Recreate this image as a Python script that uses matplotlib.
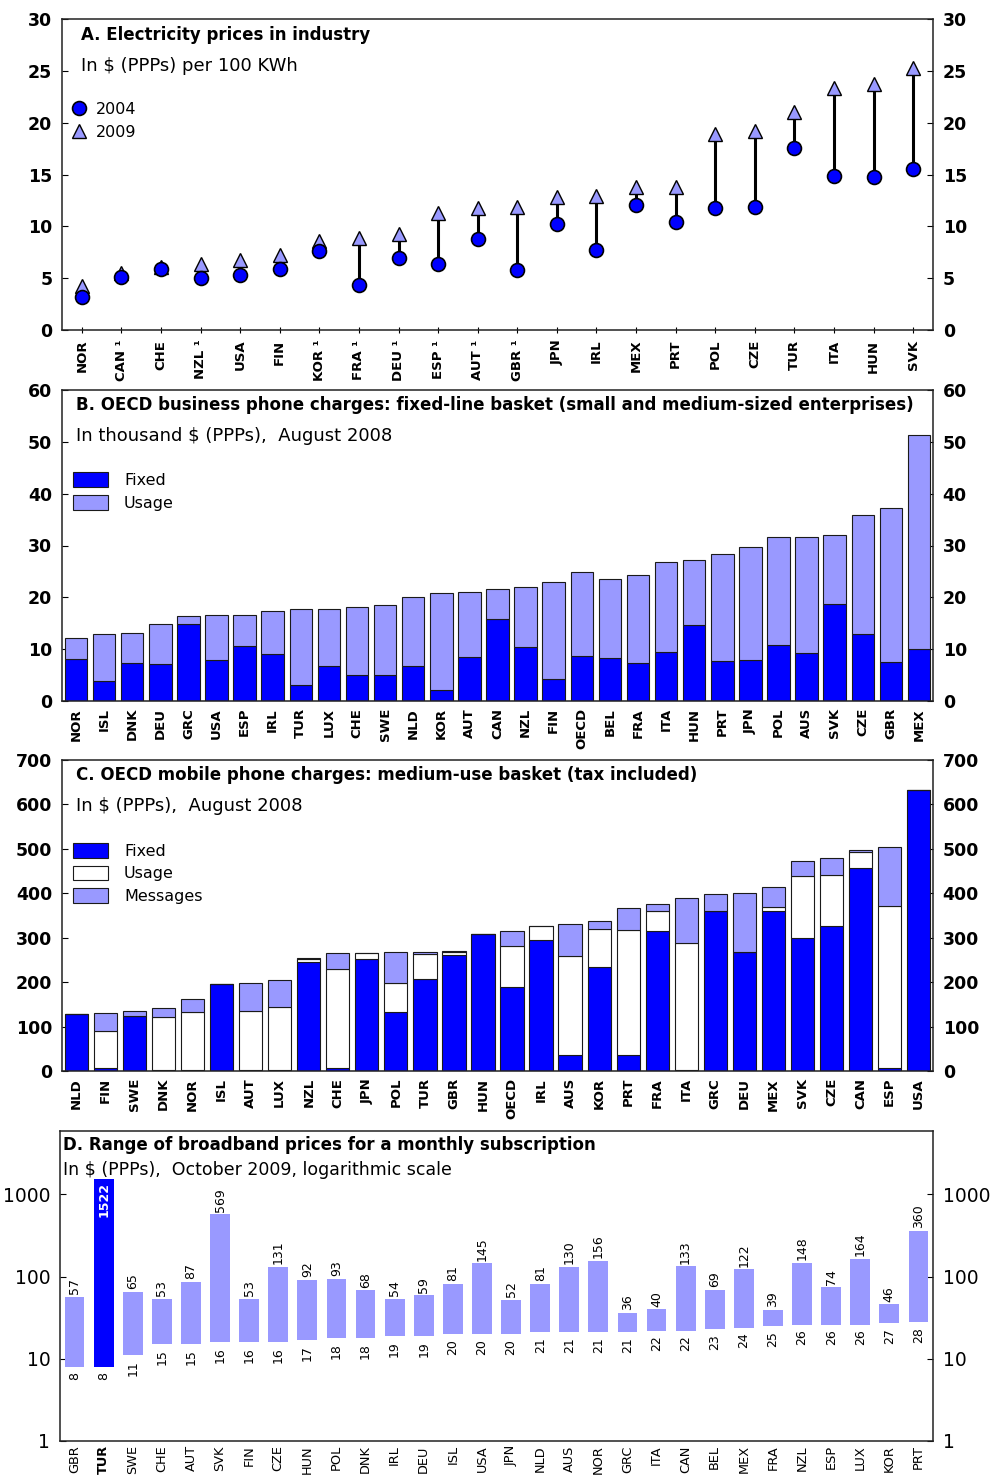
import numpy as np
import matplotlib
matplotlib.use("Agg")
import matplotlib.pyplot as plt
from matplotlib.lines import Line2D
from matplotlib.patches import Patch

plt.rcParams['font.family'] = ['DejaVu Sans']

# ---------------- Panel A: electricity prices ----------------
elec_countries = ["NOR", "CAN \u00b9", "CHE", "NZL \u00b9", "USA", "FIN", "KOR \u00b9", "FRA \u00b9",
                  "DEU \u00b9", "ESP \u00b9", "AUT \u00b9", "GBR \u00b9", "JPN", "IRL", "MEX", "PRT",
                  "POL", "CZE", "TUR", "ITA", "HUN", "SVK"]
elec_2004 = [3.15, 5.15, 5.9, 5.05, 5.3, 5.85, 7.6, 4.3, 6.9, 6.35, 8.8, 5.8,
             10.2, 7.7, 12.1, 10.4, 11.8, 11.9, 17.6, 14.85, 14.8, 15.5]
elec_2009 = [4.2, 5.5, 6.1, 6.4, 6.8, 7.2, 8.6, 8.9, 9.25, 11.25, 11.8, 11.9,
             12.8, 12.95, 13.8, 13.8, 18.9, 19.2, 21.0, 23.3, 23.7, 25.3]

# ---------------- Panel B: fixed-line business basket ----------------
fl_countries = ["NOR", "ISL", "DNK", "DEU", "GRC", "USA", "ESP", "IRL", "TUR", "LUX", "CHE",
                "SWE", "NLD", "KOR", "AUT", "CAN", "NZL", "FIN", "OECD", "BEL", "FRA", "ITA",
                "HUN", "PRT", "JPN", "POL", "AUS", "SVK", "CZE", "GBR", "MEX"]
fl_fixed = [8.1, 3.9, 7.4, 7.1, 14.8, 7.9, 10.6, 9.1, 3.0, 6.8, 5.0, 5.0, 6.7, 2.1, 8.4,
            15.85, 10.4, 4.25, 8.7, 8.3, 7.4, 9.5, 14.75, 7.7, 7.9, 10.75, 9.3, 18.7, 12.9,
            7.6, 10.05]
fl_usage = [4.0, 9.1, 5.7, 7.8, 1.6, 8.7, 6.0, 8.25, 14.7, 10.9, 13.2, 13.5, 13.4, 18.7,
            12.6, 5.8, 11.5, 18.75, 16.2, 15.2, 16.9, 17.35, 12.45, 20.6, 21.85, 20.85,
            22.3, 13.4, 23.0, 29.7, 41.25]

# ---------------- Panel C: mobile medium-use basket ----------------
mob_countries = ["NLD", "FIN", "SWE", "DNK", "NOR", "ISL", "AUT", "LUX", "NZL", "CHE", "JPN",
                 "POL", "TUR", "GBR", "HUN", "OECD", "IRL", "AUS", "KOR", "PRT", "FRA", "ITA",
                 "GRC", "DEU", "MEX", "SVK", "CZE", "CAN", "ESP", "USA"]
mob_fixed = [129, 6, 123, 2, 2, 195, 2, 2, 246, 6, 253, 132, 208, 261, 308, 190, 294, 35,
             233, 37, 314, 2, 361, 267, 361, 299, 327, 458, 7, 632]
mob_usage = [0, 84, 0, 119, 130, 0, 133, 142, 6, 224, 13, 67, 55, 6, 0, 91, 33, 224,
             87, 281, 47, 286, 0, 0, 9, 140, 114, 36, 364, 0]
mob_messages = [0, 40, 13, 20, 31, 0, 63, 60, 2, 35, 0, 68, 5, 3, 0, 35, 0, 71,
                17, 49, 14, 102, 37, 134, 44, 34, 38, 3, 134, 0]

# ---------------- Panel D: broadband price range ----------------
bb_countries = ["GBR", "TUR", "SWE", "CHE", "AUT", "SVK", "FIN", "CZE", "HUN", "POL", "DNK",
                "IRL", "DEU", "ISL", "USA", "JPN", "NLD", "AUS", "NOR", "GRC", "ITA", "CAN",
                "BEL", "MEX", "FRA", "NZL", "ESP", "LUX", "KOR", "PRT"]
bb_low = [8, 8, 11, 15, 15, 16, 16, 16, 17, 18, 18, 19, 19, 20, 20, 20, 21, 21, 21, 21,
          22, 22, 23, 24, 25, 26, 26, 26, 27, 28]
bb_high = [57, 1522, 65, 53, 87, 569, 53, 131, 92, 93, 68, 54, 59, 81, 145, 52, 81, 130,
           156, 36, 40, 133, 69, 122, 39, 148, 74, 164, 46, 360]

BLUE = "#0000FF"
LIGHT = "#9999FF"
EDGE = "#1a1a1a"

W, H = 992, 1478
fig = plt.figure(figsize=(W / 100, H / 100), dpi=100)


def box(left, top, right, bottom):
    return [left / W, 1 - bottom / H, (right - left) / W, (bottom - top) / H]


def fig_text(x, y, s, **kw):
    fig.text(x / W, 1 - y / H, s, ha="left", va="center", **kw)


def style_axes(ax, xlabel_size=9.5, ylabel_size=12.5, bold=True):
    for sp in ax.spines.values():
        sp.set_linewidth(1.1)
        sp.set_color("#222222")
    ax.tick_params(axis="y", which="both", direction="in", length=4, width=0.8,
                   left=True, right=True, labelleft=True, labelright=True,
                   labelsize=ylabel_size, pad=7)
    ax.tick_params(axis="x", labelsize=xlabel_size, pad=5, rotation=90)
    w = "bold" if bold else "normal"
    for lbl in ax.get_yticklabels() + ax.get_xticklabels():
        lbl.set_fontweight(w)


# ---- Panel A ----
axA = fig.add_axes(box(62, 19, 933, 330))
xa = np.arange(len(elec_countries))
axA.vlines(xa, elec_2004, elec_2009, color="black", lw=2.2, zorder=2)
axA.plot(xa, elec_2009, ls="none", marker="^", ms=10, mfc=LIGHT, mec="black", mew=1.0, zorder=3)
axA.plot(xa, elec_2004, ls="none", marker="o", ms=10, mfc=BLUE, mec="black", mew=1.2, zorder=4)
axA.set_xlim(-0.5, len(elec_countries) - 0.5)
axA.set_ylim(0, 30)
axA.set_yticks(range(0, 31, 5))
axA.set_xticks(xa)
axA.set_xticklabels(elec_countries)
style_axes(axA)
axA.tick_params(axis="x", direction="inout", length=4, width=0.8)
fig_text(81, 35, "A. Electricity prices in industry", fontsize=12, fontweight="bold")
fig_text(81, 66, "In $ (PPPs) per 100 KWh", fontsize=13)
handlesA = [Line2D([], [], ls="none", marker="o", ms=10, mfc=BLUE, mec="black", mew=1.2),
            Line2D([], [], ls="none", marker="^", ms=10, mfc=LIGHT, mec="black", mew=1.0)]
axA.legend(handlesA, ["2004", "2009"], loc="upper left", bbox_to_anchor=(71 / W, 1 - 102 / H),
           bbox_transform=fig.transFigure, frameon=False, fontsize=11.5, handlelength=1.0,
           handletextpad=0.55, labelspacing=0.5, borderaxespad=0, borderpad=0)

# ---- Panel B ----
axB = fig.add_axes(box(62, 390, 933, 701))
xb = np.arange(len(fl_countries))
axB.bar(xb, fl_fixed, width=0.8, color=BLUE, edgecolor=EDGE, lw=0.8, zorder=2)
axB.bar(xb, fl_usage, width=0.8, bottom=fl_fixed, color=LIGHT, edgecolor=EDGE, lw=0.8, zorder=2)
axB.set_xlim(-0.5, len(fl_countries) - 0.5)
axB.set_ylim(0, 60)
axB.set_yticks(range(0, 61, 10))
axB.set_xticks(xb)
axB.set_xticklabels(fl_countries)
style_axes(axB)
axB.tick_params(axis="x", length=0)
fig_text(76, 405, "B. OECD business phone charges: fixed-line basket (small and medium-sized enterprises)",
         fontsize=12, fontweight="bold")
fig_text(76, 436, "In thousand $ (PPPs),  August 2008", fontsize=13)
handlesB = [Patch(facecolor=BLUE, edgecolor=EDGE, lw=0.8), Patch(facecolor=LIGHT, edgecolor=EDGE, lw=0.8)]
axB.legend(handlesB, ["Fixed", "Usage"], loc="upper left", bbox_to_anchor=(73 / W, 1 - 472 / H),
           bbox_transform=fig.transFigure, frameon=False, fontsize=11.5, handlelength=2.2,
           handleheight=1.05, handletextpad=1.0, labelspacing=0.45, borderaxespad=0, borderpad=0)

# ---- Panel C ----
axC = fig.add_axes(box(62, 760, 933, 1071))
xc = np.arange(len(mob_countries))
mf = np.array(mob_fixed)
mu = np.array(mob_usage)
mm = np.array(mob_messages)
axC.bar(xc, mf, width=0.8, color=BLUE, edgecolor=EDGE, lw=0.8, zorder=2)
axC.bar(xc, mu, width=0.8, bottom=mf, color="white", edgecolor=EDGE, lw=0.8, zorder=2)
axC.bar(xc, mm, width=0.8, bottom=mf + mu, color=LIGHT, edgecolor=EDGE, lw=0.8, zorder=2)
axC.set_xlim(-0.5, len(mob_countries) - 0.5)
axC.set_ylim(0, 700)
axC.set_yticks(range(0, 701, 100))
axC.set_xticks(xc)
axC.set_xticklabels(mob_countries)
style_axes(axC)
axC.tick_params(axis="x", length=0)
fig_text(76, 775, "C. OECD mobile phone charges: medium-use basket (tax included)",
         fontsize=12, fontweight="bold")
fig_text(76, 806, "In $ (PPPs),  August 2008", fontsize=13)
handlesC = [Patch(facecolor=BLUE, edgecolor=EDGE, lw=0.8), Patch(facecolor="white", edgecolor=EDGE, lw=0.8),
            Patch(facecolor=LIGHT, edgecolor=EDGE, lw=0.8)]
axC.legend(handlesC, ["Fixed", "Usage", "Messages"], loc="upper left",
           bbox_to_anchor=(73 / W, 1 - 843 / H), bbox_transform=fig.transFigure, frameon=False,
           fontsize=11.5, handlelength=2.2, handleheight=1.05, handletextpad=1.0, labelspacing=0.42,
           borderaxespad=0, borderpad=0)

# ---- Panel D ----
axD = fig.add_axes(box(60, 1131, 933, 1441))
xd = np.arange(len(bb_countries))
low = np.array(bb_low, dtype=float)
high = np.array(bb_high, dtype=float)
colors = [BLUE if c == "TUR" else LIGHT for c in bb_countries]
axD.bar(xd, high - low, bottom=low, width=0.68, color=colors, lw=0, zorder=2)
axD.set_yscale("log")
axD.set_xlim(-0.5, len(bb_countries) - 0.5)
axD.set_ylim(1, 10 ** 3.77)
axD.set_yticks([1, 10, 100, 1000])
axD.set_yticklabels(["1", "10", "100", "1000"])
axD.minorticks_off()
axD.set_xticks(xd)
axD.set_xticklabels(bb_countries)
style_axes(axD, xlabel_size=9.3, ylabel_size=13.5, bold=False)
axD.tick_params(axis="x", length=0, pad=3)
for lbl in axD.get_xticklabels():
    if lbl.get_text() == "TUR":
        lbl.set_fontweight("bold")
for xi, lo, hi, c in zip(xd, low, high, bb_countries):
    if c == "TUR":
        axD.text(xi, hi * 0.93, f"{hi:.0f}", rotation=90, ha="center", va="top",
                 fontsize=9, color="white", fontweight="bold")
    else:
        axD.text(xi, hi * 1.08, f"{hi:.0f}", rotation=90, ha="center", va="bottom", fontsize=9)
    axD.text(xi, lo * 0.87, f"{lo:.0f}", rotation=90, ha="center", va="top", fontsize=9)
fig_text(63, 1145, "D. Range of broadband prices for a monthly subscription", fontsize=12,
         fontweight="bold")
fig_text(63, 1170, "In $ (PPPs),  October 2009, logarithmic scale", fontsize=12.5)

fig.savefig("out.png", dpi=100)
